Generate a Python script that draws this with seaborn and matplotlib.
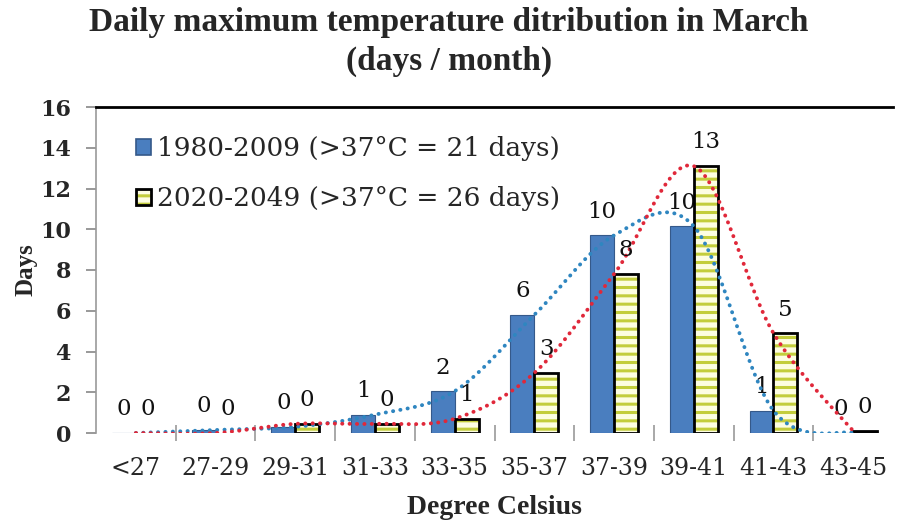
import numpy as np
import pandas as pd
import matplotlib
matplotlib.use("Agg")
import matplotlib.pyplot as plt
from matplotlib.patches import Patch, Rectangle
import seaborn as sns

# Temperature bins (°C) and days per month falling in each bin
ranges = ["<27", "27-29", "29-31", "31-33", "33-35", "35-37",
          "37-39", "39-41", "41-43", "43-45"]
days_1980_2009 = [0.0, 0.15, 0.3, 0.9, 2.05, 5.8, 9.7, 10.15, 1.1, 0.0]
days_2020_2049 = [0.0, 0.0, 0.45, 0.45, 0.7, 2.95, 7.8, 13.1, 4.9, 0.1]
period_labels = ["1980-2009 (>37°C = 21 days)", "2020-2049 (>37°C = 26 days)"]
y_ticks = [0, 2, 4, 6, 8, 10, 12, 14, 16]

BLUE = "#4a7ebf"
BLUE_EDGE = "#35598a"
PALE = "#fdfde2"
STRIPE = "#c3cd3c"
TREND_BLUE = "#2f86c0"
TREND_RED = "#e0283a"
HEAD = "Liberation Serif"
BODY = "DejaVu Serif"

sns.set_theme(style="white")
plt.rcParams["font.family"] = [BODY, HEAD]
plt.rcParams["hatch.linewidth"] = 2.2

df = pd.DataFrame({
    "range": ranges * 2,
    "days": days_1980_2009 + days_2020_2049,
    "period": [period_labels[0]] * len(ranges) + [period_labels[1]] * len(ranges),
})

fig = plt.figure(figsize=(8.98, 5.22), dpi=100)
ax = fig.add_axes([96 / 898, 1 - 433 / 522, (893 - 96) / 898, (433 - 107) / 522])

sns.barplot(data=df, x="range", y="days", hue="period", order=ranges,
            hue_order=period_labels, palette=[BLUE, PALE], width=0.6,
            saturation=1, legend=False, ax=ax, zorder=2)

blue_bars, pale_bars = ax.containers[0], ax.containers[1]
for p in blue_bars:
    p.set_edgecolor(BLUE_EDGE)
    p.set_linewidth(0.8)
for p in pale_bars:
    p.set_hatch("--")
    p.set_edgecolor(STRIPE)
    p.set_linewidth(0)
    p.set_zorder(3)
    if p.get_height() > 0:
        ax.add_patch(Rectangle(p.get_xy(), p.get_width(), p.get_height(),
                               fill=False, edgecolor="black", linewidth=2.0,
                               zorder=3.5))


def smooth(vals, n=30):
    """Bezier smoothing through every point (spreadsheet-style smoothed line)."""
    v = np.asarray(vals, dtype=float)
    x = np.arange(len(v), dtype=float)
    pts = np.column_stack([x, v])
    padded = np.vstack([pts[0], pts, pts[-1]])
    out = []
    t = np.linspace(0, 1, n)[:, None]
    for i in range(len(pts) - 1):
        p0, p3 = pts[i], pts[i + 1]
        p1 = p0 + (padded[i + 2] - padded[i]) / 6
        p2 = p3 - (padded[i + 3] - padded[i + 1]) / 6
        seg = ((1 - t) ** 3) * p0 + 3 * ((1 - t) ** 2) * t * p1 \
            + 3 * (1 - t) * t ** 2 * p2 + t ** 3 * p3
        out.append(seg if i == 0 else seg[1:])
    out = np.vstack(out)
    return out[:, 0], out[:, 1]


for vals, col, z in [(days_1980_2009, TREND_BLUE, 4), (days_2020_2049, TREND_RED, 4.5)]:
    sx, sy = smooth(vals)
    sns.lineplot(x=sx, y=sy, ax=ax, color=col, linewidth=2.8, sort=False,
                 estimator=None, zorder=z)
for line in ax.lines:
    line.set_linestyle((0, (0.05, 1.85)))
    line.set_dash_capstyle("round")

# value labels above each bar
for bars, vals, z in [(blue_bars, days_1980_2009, 2.5), (pale_bars, days_2020_2049, 5)]:
    for p, v in zip(bars, vals):
        ax.annotate(f"{v:.0f}", (p.get_x() + p.get_width() / 2, p.get_height()),
                    xytext=(0, 17), textcoords="offset points", ha="center",
                    va="center", fontsize=16.5, color="#111111", zorder=z,
                    family=BODY)

ax.set_ylim(0, 16)
ax.set_xlim(-0.5, len(ranges) - 0.5)
ax.set_yticks(y_ticks)
ax.set_yticklabels([str(t) for t in y_ticks], fontsize=16, fontweight="bold",
                   family=BODY)
ax.tick_params(axis="y", direction="out", length=7, width=1.2, color="#888888",
               pad=11, left=True)
ax.set_xticks(range(len(ranges)))
ax.set_xticklabels(ranges, fontsize=17, family=BODY)
ax.tick_params(axis="x", length=0, pad=17)
ax.set_xticks(np.arange(0.5, len(ranges) - 1, 1.0), minor=True)
ax.tick_params(axis="x", which="minor", direction="inout", length=11, width=1.2,
               color="#999999", bottom=True)

for side in ["right", "bottom"]:
    ax.spines[side].set_visible(False)
ax.spines["top"].set_color("black")
ax.spines["top"].set_linewidth(2)
ax.spines["left"].set_color("#999999")
ax.spines["left"].set_linewidth(1.2)

ax.set_ylabel("Days", fontsize=18, fontweight="bold", family=HEAD, labelpad=2)
ax.set_xlabel("Degree Celsius", fontsize=20, fontweight="bold", family=HEAD,
              labelpad=11)

handles = [
    Patch(facecolor=BLUE, edgecolor=BLUE_EDGE, linewidth=1.2),
    (Patch(facecolor=PALE, edgecolor=STRIPE, hatch="--", linewidth=0),
     Patch(fill=False, edgecolor="black", linewidth=2.0)),
]
ax.legend(handles, period_labels, loc="upper left", bbox_to_anchor=(0.05, 0.91),
          frameon=False, handlelength=0.57, handleheight=0.57,
          handletextpad=0.25, labelspacing=0.95, borderpad=0, borderaxespad=0,
          prop={"family": BODY, "size": 19})

fig.text(0.5, 1 - 42 / 522,
         "Daily maximum temperature ditribution in March\n(days / month)",
         ha="center", va="center", fontsize=24, fontweight="bold",
         family=HEAD, linespacing=1.31)

fig.savefig("out.png", dpi=100)
